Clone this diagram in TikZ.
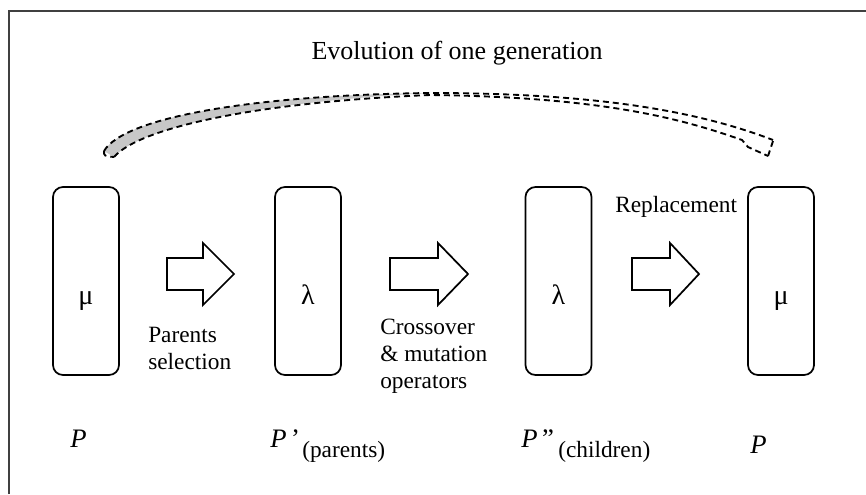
\documentclass[tikz,border=0pt]{standalone}
\usepackage{fontspec}
\setmainfont{Liberation Serif}
\newcommand{\lblfont}{\fontsize{17.5}{20.3}\selectfont}
\tikzset{
	popbox/.style={draw, line width=1.3pt, rounded corners=7.5pt, minimum width=49.5pt, minimum height=141pt, inner sep=0pt},
	blockarrow/.style={draw, line width=1.3pt, line join=miter, fill=white},
	lbl/.style={inner sep=0pt, align=left, font=\lblfont},
	ribbon/.style={line width=1.4pt, dash pattern=on 4.5pt off 3pt}
}

\begin{document}
\begin{tikzpicture}[x=0.75pt, y=-0.75pt]
	\useasboundingbox (0,0) rectangle (866,494);
	% frame
	\draw[line width=1.2pt, black!75] (9,494) -- (9,11) -- (866,11);

	% populations
	\foreach \x/\sym/\nm in {86/μ/popP, 308/λ/popParents, 558.5/λ/popChildren, 781/μ/popNew}{
		\node[popbox] (\nm) at (\x,281) {};
		\node[anchor=base, inner sep=0pt, font=\fontsize{21}{24}\selectfont] (\nm sym) at (\x,304) {\sym};
	}

	% block arrows
	\foreach \x/\l/\h in {167/67/36, 390/78/48, 632/67/38}{
		\draw[blockarrow] (\x,258) -- ++(\h,0) -- ++(0,-15) -- ++(\l-\h,31) -- ++(\h-\l,31) -- ++(0,-15) -- ++(-\h,0) -- cycle;
	}

	% operator labels
	\node[lbl, anchor=north west] (selLbl) at (148,327) {Parents\\selection};
	\node[lbl, anchor=north west] (varLbl) at (380,319) {Crossover\\\& mutation\\operators};
	\node[lbl, anchor=north west] (repLbl) at (615,196) {Replacement};

	% population names
	\node[anchor=base west, inner sep=0pt, font=\fontsize{20}{24}\selectfont\itshape] (nameP) at (70,447) {P};
	\node[anchor=base west, inner sep=0pt, font=\fontsize{20}{24}\selectfont] (nameParents) at (270,447) {\textit{P}\,’};
	\node[anchor=base west, lbl] (tagParents) at (302,457) {(parents)};
	\node[anchor=base west, inner sep=0pt, font=\fontsize{20}{24}\selectfont] (nameChildren) at (521,447) {\textit{P}\,”};
	\node[anchor=base west, lbl] (tagChildren) at (558,457) {(children)};
	\node[anchor=base west, inner sep=0pt, font=\fontsize{20}{24}\selectfont\itshape] (nameNew) at (750,453) {P};

	% evolution ribbon
	\node[inner sep=0pt, anchor=north, font=\fontsize{19.5}{23}\selectfont] (title) at (457,41) {Evolution of one generation};
	\fill[black!22] (104,151) .. controls (125,116) and (260,95) .. (430,93) .. controls (260,102) and (140,127) .. (114,157) -- cycle;
	\draw[ribbon] (104,151) .. controls (125,116) and (260,95) .. (430,93) .. controls (600,93) and (700,112) .. (773,140);
	\draw[ribbon] (114,157) .. controls (140,127) and (260,102) .. (430,95) .. controls (600,97) and (680,118) .. (742,140) -- (748,147) -- (768,156);
	\draw[ribbon] (104,151) .. controls (104,156) .. (114,157);
	\draw[ribbon] (773,141) -- (768,156);
\end{tikzpicture}
\end{document}
